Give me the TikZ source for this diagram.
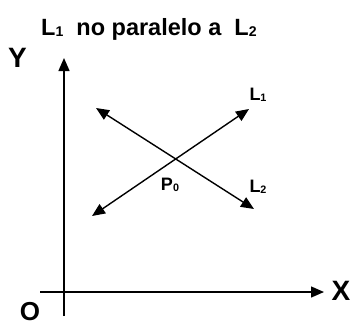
\documentclass[tikz,border=0pt]{standalone}
\usepackage{fontspec}
\setmainfont{Liberation Sans}
\usetikzlibrary{arrows.meta}
\newcommand{\sbs}[1]{\raisebox{-0.08em}{\scalebox{0.6}{#1}}}
\begin{document}
\begin{tikzpicture}[x=1pt,y=-1pt,
  axis/.style={line width=1.4pt,-{Triangle[length=13pt,width=11pt]}},
  ln/.style={line width=1.4pt,{Triangle[length=13pt,width=11pt]}-{Triangle[length=13pt,width=11pt]}},
  lbl/.style={font=\bfseries\fontsize{18}{18}\selectfont,inner sep=0pt},
  big/.style={font=\bfseries\fontsize{28}{28}\selectfont,inner sep=0pt},
  ttl/.style={font=\bfseries\fontsize{23.5}{23.5}\selectfont,inner sep=0pt,anchor=base west}]
\useasboundingbox (0,0) rectangle (353,325);
\coordinate (ybot) at (64,316);
\coordinate (ytop) at (64,58);
\coordinate (xl) at (40,292);
\coordinate (xr) at (324,292);
\coordinate (a1) at (92,216);
\coordinate (b1) at (249,109);
\coordinate (a2) at (96,108);
\coordinate (b2) at (254,209);
\draw[axis] (ybot) -- (ytop);
\draw[axis] (xl) -- (xr);
\draw[ln] (a1) -- (b1);
\draw[ln] (a2) -- (b2);
\node[big] (Y) at (17.5,58) {Y};
\node[big] (X) at (341,291) {X};
\node[big,font=\bfseries\fontsize{26}{26}\selectfont] (O) at (30,311.5) {O};
\node[ttl] (t) at (41,35) {L\sbs{1}\ \ no paralelo a\ \ L\sbs{2}};
\node[lbl] (l1) at (258,95) {L\sbs{1}};
\node[lbl] (l2) at (258,187) {L\sbs{2}};
\node[lbl] (p0) at (170,185) {P\sbs{0}};
\end{tikzpicture}
\end{document}
